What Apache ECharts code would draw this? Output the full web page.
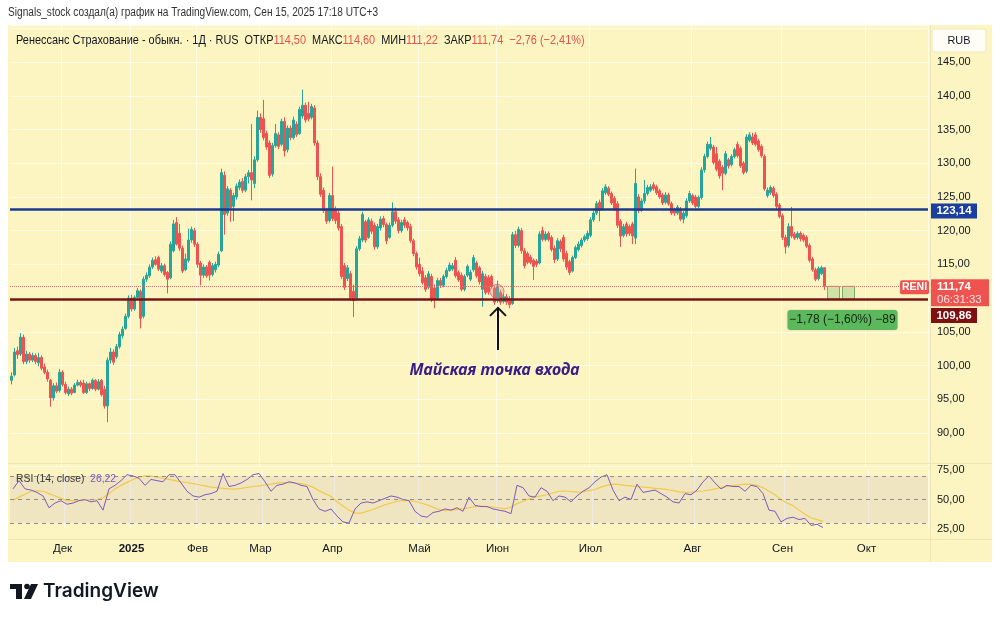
<!DOCTYPE html>
<html><head><meta charset="utf-8">
<script src="https://cdn.jsdelivr.net/npm/echarts@6.0.0/dist/echarts.min.js"></script>
<style>html,body{margin:0;padding:0;background:#fff}#c{width:1000px;height:619px}</style>
</head><body><div id="c"></div>
<script>
// ---- data (daily candles, RENI) ----
const opens = [97.8,98.6,102.2,101.7,104.2,100.6,101.7,100.8,101.5,100.4,
101.2,99.8,99.0,97.8,95.2,97.0,96.3,99.0,97.2,95.8,
96.5,96.0,97.1,97.5,97.4,96.0,97.3,96.6,97.8,96.5,
97.8,96.5,94.0,100.8,102.0,101.3,102.8,104.4,105.5,107.3,
110.0,108.4,110.1,111.0,107.3,112.8,113.3,114.6,115.7,116.0,
114.0,114.8,113.8,113.0,117.0,121.2,119.6,117.4,114.2,115.6,
118.6,120.0,118.0,115.2,113.4,114.6,115.3,113.5,114.2,114.9,
117.0,128.2,122.6,126.0,123.6,125.0,126.4,127.3,126.0,128.0,
128.6,127.0,130.5,136.8,136.6,134.4,133.0,128.4,132.6,134.2,
132.8,136.2,132.0,135.2,133.8,135.8,134.4,137.0,138.6,137.4,
136.8,138.2,133.0,128.0,126.0,123.0,121.5,125.2,123.2,122.6,
120.6,114.8,112.9,113.6,111.0,110.0,117.3,118.6,121.3,119.0,
121.4,120.8,117.6,120.4,121.8,120.9,119.0,120.8,122.8,121.6,
120.0,121.6,121.2,120.6,118.5,116.6,115.0,114.0,113.0,111.6,
113.2,111.5,110.0,112.6,111.9,113.2,114.1,114.3,115.6,113.8,
113.4,111.3,113.4,112.8,114.2,115.2,114.5,111.3,113.2,113.0,
113.2,111.5,109.6,110.8,109.5,110.2,109.9,109.2,119.4,117.8,
120.0,117.0,116.6,116.1,115.6,115.5,115.2,120.0,118.7,119.6,
119.0,117.4,115.8,118.4,119.0,116.6,115.4,114.0,116.0,117.2,
117.8,118.6,118.8,119.3,121.6,122.6,124.2,123.2,125.6,126.3,
125.5,124.8,124.0,121.4,119.3,121.0,120.6,121.0,118.9,125.0,
123.0,124.4,125.5,126.0,126.8,126.5,125.9,125.3,124.2,125.3,
124.0,123.0,122.6,123.2,121.7,122.2,124.4,125.2,125.0,123.6,
124.9,129.0,131.0,132.2,132.4,131.4,130.3,129.4,128.5,130.5,
129.8,131.0,132.8,132.2,130.0,128.8,133.4,133.9,134.2,133.3,
132.5,131.0,125.2,125.6,126.3,125.4,123.8,122.2,119.0,117.8,
120.6,119.5,119.0,119.6,119.3,119.0,117.8,115.8,114.2,112.9,
113.6,114.5];
const closes = [98.4,102.0,101.6,104.2,100.6,101.7,100.8,101.5,100.6,101.2,
99.6,99.0,98.0,95.2,97.0,96.2,99.0,97.2,96.0,96.5,
95.9,97.1,97.5,97.1,96.0,97.3,96.6,97.8,96.5,97.6,
95.7,94.0,100.8,102.0,100.5,102.8,104.6,105.4,107.3,110.0,
108.4,110.1,111.1,107.0,112.8,113.4,114.6,115.6,115.0,114.3,
114.8,113.5,112.8,118.0,121.0,118.0,117.4,114.0,115.8,118.6,
120.2,118.0,115.0,113.4,114.6,113.3,113.4,114.8,115.0,116.5,
128.6,122.4,126.2,123.4,125.2,126.6,127.2,126.0,128.0,128.6,
127.5,130.5,136.8,135.0,133.8,132.4,128.2,132.6,134.4,132.5,
136.2,131.8,135.2,133.8,136.4,134.2,138.0,138.6,136.4,136.6,
138.4,133.0,128.0,125.4,123.0,121.4,125.2,121.8,121.5,120.4,
113.2,111.6,114.5,110.0,109.6,117.3,118.8,122.4,118.6,121.6,
119.9,117.6,120.6,121.7,120.9,118.5,120.8,122.8,121.4,120.0,
121.2,120.8,120.4,118.5,116.6,114.6,113.6,112.3,111.3,113.6,
109.8,109.9,112.6,111.9,113.2,114.1,114.9,114.8,113.3,112.7,
111.3,113.2,114.7,113.8,116.0,113.3,112.4,113.6,110.8,110.9,
111.8,109.4,111.8,109.4,110.2,109.4,109.0,119.4,117.8,120.2,
117.0,114.8,115.3,115.3,114.7,115.0,119.5,118.7,119.5,118.7,
117.2,115.7,118.5,117.3,115.8,114.6,113.8,116.0,117.5,118.0,
118.6,119.1,119.6,121.6,122.6,124.0,123.0,125.9,126.5,125.4,
124.1,123.2,120.8,119.2,120.6,119.5,119.6,119.2,127.0,123.0,
124.4,125.5,126.4,126.5,126.2,125.6,125.0,124.1,125.3,124.0,
122.6,122.6,123.5,121.7,122.6,124.4,125.5,124.1,123.6,124.9,
129.0,131.0,132.8,132.8,130.1,129.1,128.1,128.5,131.4,129.6,
131.0,132.0,131.1,129.6,128.6,133.9,134.2,133.0,132.8,132.0,
131.1,126.2,126.0,126.4,125.2,123.6,122.1,119.0,117.6,120.6,
119.2,118.9,119.6,118.8,118.6,117.7,115.6,114.2,112.8,114.4,
114.5,111.74];
const lows = [97.2,98.4,101.0,101.4,100.2,100.2,100.4,100.5,100.2,99.9,
99.3,98.7,97.6,93.9,94.8,95.9,96.0,96.9,95.7,95.5,
95.6,95.9,96.9,96.8,95.8,95.8,96.2,96.4,96.2,96.3,
95.4,93.6,91.6,100.3,100.1,101.0,102.5,104.0,105.3,107.0,
108.0,108.1,109.8,105.5,107.0,112.4,113.0,114.3,114.8,114.0,
113.7,113.2,110.7,112.8,116.8,117.8,117.0,113.7,114.0,115.3,
118.2,117.6,114.5,111.9,113.0,113.0,112.6,113.2,113.8,114.6,
116.8,119.4,122.2,121.3,121.4,124.6,126.0,125.6,125.7,127.0,
124.5,126.3,130.2,134.5,133.4,132.0,127.8,128.0,132.3,132.1,
132.5,131.0,131.6,133.4,133.5,133.9,134.2,136.6,136.0,136.2,
136.5,132.6,127.5,125.0,122.6,121.0,121.2,121.4,121.0,120.0,
112.8,111.2,112.5,109.6,107.2,109.7,117.0,118.3,118.2,118.8,
119.5,117.2,117.3,120.0,120.5,118.0,118.8,120.5,121.0,119.6,
119.7,120.4,120.0,118.2,116.2,114.2,113.2,112.0,110.9,111.3,
109.4,108.5,109.8,111.5,111.6,112.9,113.9,114.0,113.0,112.4,
111.0,111.0,113.1,112.5,113.9,113.0,112.0,108.7,110.5,110.5,
111.4,109.0,109.3,109.0,109.2,109.0,108.5,109.0,117.4,117.5,
116.6,114.4,115.0,115.0,112.7,114.6,115.0,118.4,118.4,118.4,
116.9,115.2,115.5,116.8,115.4,114.2,113.4,113.8,115.8,116.9,
117.5,118.3,118.5,119.0,121.3,122.3,121.4,123.0,125.3,125.1,
123.8,122.9,120.4,117.6,119.0,119.1,119.2,118.0,118.0,122.6,
122.8,124.0,125.2,125.7,125.9,125.3,124.7,123.8,123.9,123.7,
122.3,122.2,122.3,121.4,121.1,121.9,124.1,123.8,123.3,123.3,
124.6,128.6,130.7,131.9,129.8,128.8,127.7,126.0,128.2,129.2,
129.5,130.7,130.8,129.3,128.3,128.5,133.1,132.7,132.5,131.7,
130.8,125.9,124.9,125.3,124.9,123.3,121.8,118.6,116.6,117.5,
118.9,118.6,118.7,118.4,118.3,117.4,115.3,113.9,112.5,112.6,
113.4,111.22];
const highs = [99.0,102.6,102.8,104.8,104.6,102.2,102.0,101.9,101.8,101.9,
101.5,100.3,99.4,98.0,97.4,97.5,99.5,99.3,97.6,96.9,
96.8,97.4,97.9,97.8,97.9,97.6,97.5,98.1,98.0,98.0,
98.0,97.0,101.2,102.6,102.4,103.2,105.0,105.8,107.7,110.4,
110.5,110.4,111.5,111.3,113.2,113.8,115.0,116.0,116.2,116.3,
115.2,115.1,114.0,118.4,121.6,122.0,121.0,117.8,116.6,120.3,
120.6,120.4,118.3,115.5,115.0,114.9,115.6,115.2,115.4,116.9,
129.2,128.8,126.6,126.3,125.6,127.0,127.6,127.8,128.4,129.0,
135.8,131.0,137.8,137.4,139.4,134.8,133.4,133.0,135.8,134.6,
136.6,136.8,135.6,135.6,136.9,136.2,138.4,140.9,139.0,139.1,
138.8,138.6,133.4,128.5,126.4,123.4,125.6,129.5,123.6,123.0,
121.0,115.2,114.9,114.0,112.0,117.7,119.2,122.8,121.6,122.0,
121.8,121.2,121.0,122.1,122.2,121.2,121.2,124.2,123.4,122.0,
121.6,122.0,121.5,121.0,118.8,116.9,116.0,114.6,113.4,114.0,
113.6,112.0,113.0,113.0,113.5,114.5,115.3,115.2,116.1,114.1,
113.8,113.5,115.0,114.2,116.4,115.5,114.8,114.0,113.6,113.4,
113.5,111.8,112.6,111.2,110.6,110.6,110.3,119.8,120.0,120.6,
120.4,117.4,116.9,116.4,115.9,115.8,119.9,120.6,119.9,119.9,
119.3,117.8,118.9,118.7,119.4,117.0,115.7,116.3,117.8,118.4,
118.9,119.4,120.0,122.0,123.0,124.4,124.6,126.3,126.9,126.6,
125.8,125.1,124.4,121.7,121.0,121.3,120.9,121.3,129.2,125.4,
124.8,127.5,126.8,126.9,127.2,126.8,126.2,125.6,125.7,125.6,
124.3,123.4,123.8,123.5,123.0,124.8,125.9,125.5,125.3,125.2,
129.4,131.4,133.2,133.9,132.7,132.4,130.6,129.7,131.8,130.8,
131.3,132.3,133.2,132.5,130.3,134.3,134.6,134.5,134.6,133.6,
132.8,131.3,126.4,126.7,126.6,125.7,124.1,122.5,119.4,121.1,
123.5,119.8,119.9,119.9,119.6,119.3,118.1,116.1,114.5,114.7,
114.8,114.6];
// RSI(14) and its moving average, read every second bar
const rsiValues = [59,66,59,58,56,53,43,47,49,46,
47,49,50,48,49,41,59,62,66,71,
70,68,62,67,66,65,71,71,64,57,
53,52,54,55,57,72,61,62,64,67,
71,72,65,57,62,63,65,64,62,61,
50,42,40,42,36,31,30,42,47,48,
47,49,51,53,52,50,49,40,36,35,
39,40,42,41,43,40,52,45,44,44,
42,41,40,38,62,60,53,52,60,57,
49,53,52,48,53,57,60,65,69,71,
58,49,52,50,63,56,57,58,55,52,
48,47,55,54,58,65,70,64,59,62,
61,61,57,62,61,55,41,40,31,34,
35,33,34,28,29,26.22];
const rsiMa = [49.5,52,54.5,57,57.4,57,55,53,51,49,
49,49.2,49.5,49.8,50,51.5,55,59,62,64.5,
67,69,70,69.8,69,68,67,66,65,64.4,
63.5,62.5,61.5,60.5,60,59.5,59,58.8,59.5,60.3,
61,61.6,62.3,63,63.8,64.4,64.2,64,63.5,62.3,
60.5,57.5,55,52.5,48,44.5,41,38.5,38.5,40,
41.5,43.5,45.5,47,48.5,49,49,48.5,47,45.5,
43.5,41.5,40.5,41,41.5,42,43,44,44.5,44,
43.5,43,42,43.5,46.5,48.5,50.5,52,53,54,
55.5,57,57.2,56.8,56.2,56.5,57.5,58.5,60.5,62,
63,62.8,62,61.5,61,60.5,60,59.5,59,58.5,
57.5,56.5,56,56.2,56.8,57.2,58,59,60,61,
61.8,62.5,63,62.8,62,60,57,54,50,47,
44.8,41,37.5,34.5,33,31.5];
const monthLabels = {17:'Дек',40:'2025',62:'Фев',83:'Мар',107:'Апр',136:'Май',162:'Июн',193:'Июл',227:'Авг',257:'Сен',285:'Окт'};
const levelBlue = 123.14, levelRed = 109.86;
const totalSlots = 306;
const entryBar = 162;
const positionBars = [[272,276],[277,281]];

// ---- chart ----
const BG = '#fdf5c1', GRID = 'rgba(255,255,255,0.6)', UP = '#26a69a', DOWN = '#ef5350';
const FONT = "'Liberation Sans', Arimo, sans-serif";
const fmt = v => (v < 0 ? '\u2212' : '') + Math.abs(v).toFixed(2).replace('.', ',');
const slots = Array.from({length: totalSlots}, (_, i) => String(i));
const rsiSlots = Array.from({length: totalSlots / 2}, (_, i) => String(i));
const isMonth = i => monthLabels[i] !== undefined;
const rsiMonth = new Set(Object.keys(monthLabels).map(k => Math.round(Number(k) / 2)));
const last = closes.length - 1;
const lastPrice = closes[last];
const candles = opens.map((o, i) => [o, closes[i], lows[i], highs[i]]);

const chart = echarts.init(document.getElementById('c'), null, {renderer: 'canvas'});
chart.setOption({
  backgroundColor: BG,
  animation: false,
  grid: [{left: 10, right: 72, top: 25, height: 441.7}, {left: 10, right: 72, top: 470, height: 59}],
  xAxis: [
    {type: 'category', gridIndex: 0, data: slots, boundaryGap: true,
     axisLine: {show: false}, axisTick: {show: false},
     axisLabel: {show: true, interval: (i) => isMonth(i), margin: 76, color: '#131722', fontSize: 11.5, fontFamily: FONT,
       formatter: (v, i) => { const t = monthLabels[Number(v)]; return t === '2025' ? '{b|2025}' : (t || ''); },
       rich: {b: {fontWeight: 'bold', fontSize: 11.5, color: '#131722', fontFamily: FONT}}},
     splitLine: {show: true, interval: (i) => isMonth(i), lineStyle: {color: GRID, width: 1}}},
    {type: 'category', gridIndex: 1, data: rsiSlots, boundaryGap: true,
     axisLine: {show: false}, axisTick: {show: false}, axisLabel: {show: false},
     splitLine: {show: true, interval: (i) => rsiMonth.has(i), lineStyle: {color: GRID, width: 1}}}
  ],
  yAxis: [
    {type: 'value', gridIndex: 0, position: 'right', min: 85, max: 150.49, interval: 5,
     axisLine: {show: false}, axisTick: {show: false},
     axisLabel: {margin: 9, color: '#131722', fontSize: 11, fontFamily: FONT, formatter: v => (v < 90 || v > 145) ? '' : fmt(v)},
     splitLine: {show: true, lineStyle: {color: GRID, width: 1}}},
    {type: 'value', gridIndex: 1, position: 'right', min: 25, max: 75, interval: 25,
     axisLine: {show: false}, axisTick: {show: false},
     axisLabel: {margin: 9, color: '#131722', fontSize: 11, fontFamily: FONT, formatter: v => fmt(v)},
     splitLine: {show: false}}
  ],
  series: [
    {type: 'candlestick', name: 'RENI', xAxisIndex: 0, yAxisIndex: 0, data: candles, barWidth: 2,
     itemStyle: {color: UP, color0: DOWN, borderColor: UP, borderColor0: DOWN, borderWidth: 1},
     markLine: {silent: true, symbol: ['none', 'none'], label: {show: false}, animation: false,
       data: [
         {yAxis: lastPrice, lineStyle: {color: '#e57373', type: 'dotted', width: 1}},
         {yAxis: levelBlue, lineStyle: {color: '#1b3a8f', type: 'solid', width: 2.5}},
         {yAxis: levelRed, lineStyle: {color: '#7a1414', type: 'solid', width: 2.5}}
       ]},
     markArea: {silent: true, itemStyle: {color: 'rgba(120,190,120,0.35)', borderColor: 'rgba(90,160,90,0.8)', borderWidth: 1},
       data: positionBars.map(b => [{xAxis: String(b[0]), yAxis: lastPrice}, {xAxis: String(b[1]), yAxis: levelRed}])}
    },
    {type: 'line', name: 'RSI', xAxisIndex: 1, yAxisIndex: 1, data: rsiValues, showSymbol: false, z: 4,
     lineStyle: {color: '#7e57c2', width: 1},
     markArea: {silent: true, itemStyle: {color: 'rgba(126,87,194,0.1)'}, data: [[{yAxis: 30}, {yAxis: 70}]]},
     markLine: {silent: true, symbol: ['none', 'none'], label: {show: false},
       lineStyle: {color: '#8d8d8d', type: [4, 4], width: 1}, data: [{yAxis: 70}, {yAxis: 50}, {yAxis: 30}]}
    },
    {type: 'line', name: 'RSI MA', xAxisIndex: 1, yAxisIndex: 1, data: rsiMa, showSymbol: false, z: 3,
     lineStyle: {color: '#f3c94a', width: 1.2}}
  ]
});

// ---- annotations ----
const px = i => chart.convertToPixel({xAxisIndex: 0}, i);
const py = v => chart.convertToPixel({yAxisIndex: 0}, v);
const T = (text, x, y, o, sx) => ({type: 'text', silent: true, z: 100, x, y, scaleX: sx || 1,
  style: Object.assign({text, x: 0, y: 0, fill: '#131722', font: '12px ' + FONT, textAlign: 'left', textVerticalAlign: 'middle'}, o || {})});
const R = (shape, style, type) => ({type: type || 'rect', silent: true, z: 100, shape, style});
const g = [];
g.push(R({x: 0, y: 0, width: 1000, height: 25}, {fill: '#fff'}));
g.push(R({x: 0, y: 562, width: 1000, height: 57}, {fill: '#fff'}));
g.push(R({x: 0, y: 0, width: 8, height: 619}, {fill: '#fff'}));
g.push(R({x: 992, y: 0, width: 8, height: 619}, {fill: '#fff'}));
// pane separators
g.push(R({x1: 8, y1: 463.5, x2: 992, y2: 463.5}, {stroke: '#efe6b2', lineWidth: 1}, 'line'));
g.push(R({x1: 8, y1: 539.5, x2: 992, y2: 539.5}, {stroke: '#efe6b2', lineWidth: 1}, 'line'));
g.push(R({x1: 930.5, y1: 25, x2: 930.5, y2: 562}, {stroke: '#efe6b2', lineWidth: 1}, 'line'));
// header & legend
g.push(T('Signals_stock создал(а) график на TradingView.com, Сен 15, 2025 17:18 UTC+3', 8, 13, {font: '12.5px ' + FONT, fill: '#333'}, 0.81));
g.push(T('{n|Ренессанс Страхование - обыкн. · 1Д · RUS  ОТКР}{r|' + fmt(opens[last]) + '}{n|  МАКС}{r|' + fmt(highs[last]) +
  '}{n|  МИН}{r|' + fmt(lows[last]) + '}{n|  ЗАКР}{r|' + fmt(lastPrice) + '}{r|  ' + fmt(lastPrice - closes[last - 1]) +
  ' (' + fmt((lastPrice - closes[last - 1]) / closes[last - 1] * 100) + '%)}', 16, 40,
  {rich: {n: {fill: '#131722', font: '13px ' + FONT}, r: {fill: '#e5534b', font: '13px ' + FONT}}}, 0.84));
g.push(R({x: 932, y: 29, width: 54, height: 23, r: 3}, {fill: '#fffef6', stroke: '#f0e8c0'}));
g.push(T('RUB', 959, 41, {textAlign: 'center', font: '11.5px ' + FONT}, 0.95));
g.push(T('{a|RSI (14, close)}{b|  ' + fmt(rsiValues[rsiValues.length - 1]) + '}', 16, 479,
  {rich: {a: {fill: '#333', font: '11.5px ' + FONT}, b: {fill: '#7e57c2', font: '11.5px ' + FONT}}}, 0.9));
// price labels on scale
const yb = py(levelBlue), yl = py(lastPrice), yr = py(levelRed);
g.push(R({x: 931, y: yb - 6, width: 46, height: 15}, {fill: '#1b3f9e'}));
g.push(T(fmt(levelBlue), 954, yb + 1.5, {textAlign: 'center', fill: '#fff', font: 'bold 11.5px ' + FONT}));
g.push(R({x: 931, y: yl - 7, width: 58, height: 27}, {fill: '#ef5350'}));
g.push(T(fmt(lastPrice), 937, yl + 0.5, {fill: '#fff', font: 'bold 11.5px ' + FONT}));
g.push(T('06:31:33', 937, yl + 13, {fill: '#ffe4e4', font: '11.5px ' + FONT}));
g.push(R({x: 931, y: yr + 9, width: 46, height: 15}, {fill: '#7e0f12'}));
g.push(T(fmt(levelRed), 954, yr + 16.5, {textAlign: 'center', fill: '#fff', font: 'bold 11.5px ' + FONT}));
g.push(R({x: 900, y: yl - 6, width: 29, height: 14, r: 2}, {fill: '#ef5350'}));
g.push(T('RENI', 914.5, yl + 1, {textAlign: 'center', fill: '#fff', font: 'bold 10.5px ' + FONT}));
// position result label
const xp = px(276.5);
g.push(R({x: xp - 55, y: yr + 11, width: 110, height: 20, r: 3}, {fill: '#5cb85c', shadowBlur: 2, shadowColor: 'rgba(0,0,0,0.2)'}));
g.push(T('\u22121,78 (\u22121,60%) \u221289', xp, yr + 21, {textAlign: 'center', fill: '#13240f', font: '12px ' + FONT}));
// entry circle, arrow and caption
const xe = px(entryBar);
g.push(R({cx: xe - 0.5, cy: py(111.0), r: 7}, {fill: 'rgba(225,140,150,0.35)', stroke: 'rgba(200,100,110,0.8)', lineWidth: 1}, 'circle'));
const tipY = py(108.7), tailY = py(102.3);
g.push(R({x1: xe + 0.5, y1: tipY + 1, x2: xe + 0.5, y2: tailY}, {stroke: '#111', lineWidth: 2}, 'line'));
g.push(R({points: [[xe - 7.5, tipY + 9], [xe + 0.5, tipY + 1], [xe + 8.5, tipY + 9]]}, {stroke: '#111', lineWidth: 2, fill: null}, 'polyline'));
g.push(T('Майская точка входа', xe - 3, py(99.2), {textAlign: 'center', fill: '#3a1d86', font: 'italic bold 16px "Noto Sans", sans-serif'}));
// TradingView logo
g.push(R({x: 10, y: 584, width: 12, height: 5}, {fill: '#131722'}));
g.push(R({x: 16, y: 584, width: 6, height: 15}, {fill: '#131722'}));
g.push(R({cx: 27, cy: 586.5, r: 2.8}, {fill: '#131722'}, 'circle'));
g.push(R({points: [[31, 584], [38, 584], [31, 599], [24, 599]]}, {fill: '#131722'}, 'polygon'));
g.push(T('TradingView', 43, 591.5, {fill: '#131722', font: '600 19px Inter, "Noto Sans", sans-serif'}));
chart.setOption({graphic: g});
</script>
</body></html>
